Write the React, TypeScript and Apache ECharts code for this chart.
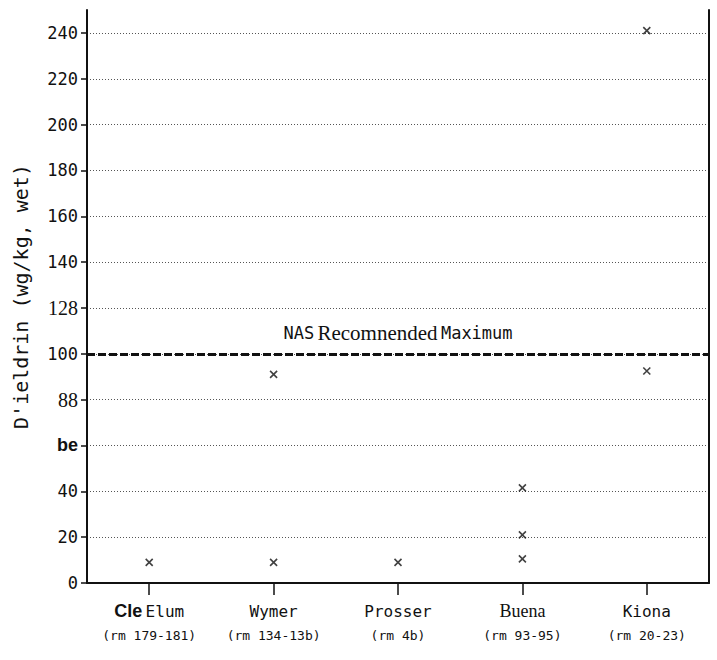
import React, { useEffect, useRef } from "react";
import * as echarts from "echarts";

const categories = ["Cle Elum", "Wymer", "Prosser", "Buena", "Kiona"];
const riverMiles = ["(rm 179-181)", "(rm 134-13b)", "(rm 4b)", "(rm 93-95)", "(rm 20-23)"];
const sampleSites = ["Cle Elum", "Wymer", "Wymer", "Prosser", "Buena", "Buena", "Buena", "Kiona", "Kiona"];
const dieldrinValues = [9, 91, 9, 9, 41.5, 21, 10.5, 92.5, 241];
const yTickValues = [0, 20, 40, 60, 80, 100, 120, 140, 160, 180, 200, 220, 240];
const yTickLabels = ["0", "20", "40", "be", "88", "100", "128", "140", "160", "180", "200", "220", "240"];
const nasMaximum = 100;
const nasLabel = "NAS Recomnended Maximum";
const yAxisTitle = "D'ieldrin (wg/kg, wet)";

const MONO = "'DejaVu Sans Mono', monospace";
const SERIF = "'Liberation Serif', 'DejaVu Serif', serif";
const SANS = "'Liberation Sans', Arial, sans-serif";

export default function App() {
  const ref = useRef<HTMLDivElement>(null);
  useEffect(() => {
    if (!ref.current) return;
    const chart = echarts.init(ref.current, undefined, { renderer: "svg" });
    const xMark = "path://M0,0L10,10M10,0L0,10";
    const yLabel = (v: number) => {
      const i = yTickValues.indexOf(v);
      if (i < 0) return "";
      const t = yTickLabels[i];
      if (t === "be") return `{b|${t}}`;
      if (t === "88" || t === "128") return `{s|${t}}`;
      return `{m|${t}}`;
    };
    const xLabel = (v: string, idx: number) => {
      let first: string;
      if (v === "Cle Elum") first = "{b|Cle} {m|Elum}";
      else if (v === "Buena") first = `{s|${v}}`;
      else first = `{m|${v}}`;
      return `${first}\n{r|${riverMiles[idx]}}`;
    };
    const [w1, w2, w3] = nasLabel.split(" ");
    chart.setOption({
      animation: false,
      backgroundColor: "#ffffff",
      grid: { left: 87, right: 8, top: 10, bottom: 77, containLabel: false },
      xAxis: {
        type: "category",
        data: categories,
        boundaryGap: true,
        axisLine: { show: true, lineStyle: { color: "#111", width: 2 } },
        axisTick: { show: true, alignWithLabel: true, length: 12, lineStyle: { color: "#111", width: 1.5 } },
        axisLabel: {
          margin: 16,
          formatter: xLabel,
          rich: {
            b: { fontFamily: SANS, fontWeight: "bold", fontSize: 18, color: "#111", lineHeight: 24 },
            m: { fontFamily: MONO, fontSize: 16, color: "#111", lineHeight: 24 },
            s: { fontFamily: SERIF, fontSize: 18, color: "#111", lineHeight: 24 },
            r: { fontFamily: MONO, fontSize: 13, color: "#111", lineHeight: 24 },
          },
        },
        splitLine: { show: false },
      },
      yAxis: [
        {
          type: "value",
          min: 0,
          max: 250,
          interval: 20,
          name: yAxisTitle,
          nameLocation: "middle",
          nameGap: 56,
          nameRotate: 90,
          nameTextStyle: { fontFamily: MONO, fontSize: 20, color: "#111" },
          axisLine: { show: true, lineStyle: { color: "#111", width: 2 } },
          axisTick: { show: true, length: 6, customValues: yTickValues, lineStyle: { color: "#111", width: 1.5 } },
          axisLabel: {
            margin: 9,
            showMaxLabel: false,
            formatter: yLabel,
            rich: {
              m: { fontFamily: MONO, fontSize: 17, color: "#111" },
              s: { fontFamily: SERIF, fontSize: 20, color: "#111" },
              b: { fontFamily: SANS, fontWeight: "bold", fontSize: 18, color: "#111" },
            },
          },
          splitLine: { show: true, lineStyle: { color: "#555", width: 1, type: [1, 2] } },
        },
        {
          type: "value",
          min: 0,
          max: 250,
          interval: 20,
          position: "right",
          axisLine: { show: true, lineStyle: { color: "#111", width: 2 } },
          axisTick: { show: false },
          axisLabel: { show: false },
          splitLine: { show: false },
        },
      ],
      series: [
        {
          type: "scatter",
          yAxisIndex: 0,
          data: sampleSites.map((s, i) => [s, dieldrinValues[i]]),
          symbol: xMark,
          symbolSize: 7,
          itemStyle: { color: "transparent", borderColor: "#111", borderWidth: 1.6 },
          markLine: {
            silent: true,
            symbol: ["none", "none"],
            lineStyle: { color: "#111", width: 3, type: [8, 3] },
            label: {
              show: true,
              position: "middle",
              distance: 10,
              formatter: `{m|${w1}} {s|${w2}} {m|${w3}}`,
              rich: {
                m: { fontFamily: MONO, fontSize: 17, color: "#111" },
                s: { fontFamily: SERIF, fontSize: 21, color: "#111" },
              },
            },
            data: [{ yAxis: nasMaximum }],
          },
        },
      ],
    });
    return () => chart.dispose();
  }, []);
  return (
    <div
      ref={ref}
      style={{ position: "absolute", left: 0, top: 0, width: 717, height: 660 }}
    />
  );
}
